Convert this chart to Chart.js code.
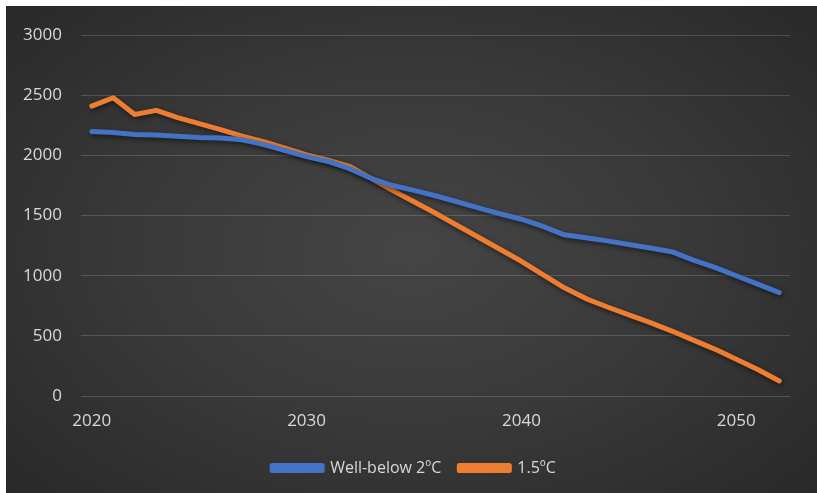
<!DOCTYPE html>
<html>
<head>
<meta charset="utf-8">
<script src="https://cdn.jsdelivr.net/npm/chart.js@4"></script>
<style>
  html, body { margin: 0; padding: 0; background: #ffffff; }
  #wrap {
    position: absolute; left: 6px; top: 6px; width: 811px; height: 487px;
    background: radial-gradient(ellipse 75% 80% at 50% 50%, #454545 0%, #393939 45%, #262626 100%);
  }
  canvas { display: block; }
</style>
</head>
<body>
<div id="wrap"><canvas id="c" width="811" height="487"></canvas></div>
<script>
// Emission pathways, yearly values
const years = [2020, 2021, 2022, 2023, 2024, 2025, 2026, 2027, 2028, 2029, 2030,
               2031, 2032, 2033, 2034, 2035, 2036, 2037, 2038, 2039, 2040,
               2041, 2042, 2043, 2044, 2045, 2046, 2047, 2048, 2049, 2050,
               2051, 2052];
const wellBelow2 = [2200, 2190, 2175, 2170, 2160, 2150, 2145, 2130, 2090, 2040, 1990,
                    1950, 1890, 1810, 1750, 1710, 1665, 1615, 1565, 1515, 1470,
                    1410, 1340, 1315, 1290, 1260, 1230, 1200, 1130, 1070, 1000,
                    930, 860];
const onePointFive = [2410, 2480, 2340, 2375, 2315, 2265, 2215, 2160, 2115, 2060, 2005,
                      1960, 1910, 1810, 1710, 1615, 1520, 1420, 1320, 1220, 1120,
                      1010, 900, 810, 740, 675, 610, 540, 465, 390, 305,
                      220, 125];
const seriesNames = ['Well-below 2ºC', '1.5ºC'];
const yTicks = [0, 500, 1000, 1500, 2000, 2500, 3000];
const xTickYears = [2020, 2030, 2040, 2050];

const textColor = '#d9d9d9';
const gridColor = 'rgba(255,255,255,0.16)';
const family = "'Open Sans', 'Noto Sans', sans-serif";
const tickFont = { family: family, size: 17 };
const legendFont = { family: family, size: 16 };

// soft drop shadow under each line
const lineShadow = {
  id: 'lineShadow',
  beforeDatasetDraw(chart) {
    const ctx = chart.ctx;
    ctx.save();
    ctx.shadowColor = 'rgba(0,0,0,0.55)';
    ctx.shadowBlur = 5;
    ctx.shadowOffsetX = 1;
    ctx.shadowOffsetY = 2;
  },
  afterDatasetDraw(chart) {
    chart.ctx.restore();
  }
};

// centre the legend under the plot rather than under the whole canvas
const legendShift = {
  id: 'legendShift',
  afterLayout(chart) {
    const lg = chart.legend;
    if (lg) { lg.left += 13; lg.right += 13; }
  }
};

new Chart(document.getElementById('c'), {
  type: 'line',
  data: {
    labels: years,
    datasets: [
      {
        label: seriesNames[0],
        data: wellBelow2,
        borderColor: '#4472C4',
        backgroundColor: '#4472C4',
        borderWidth: 5,
        pointRadius: 0,
        tension: 0,
        borderCapStyle: 'round',
        borderJoinStyle: 'round'
      },
      {
        label: seriesNames[1],
        data: onePointFive,
        borderColor: '#ED7D31',
        backgroundColor: '#ED7D31',
        borderWidth: 5,
        pointRadius: 0,
        tension: 0,
        borderCapStyle: 'round',
        borderJoinStyle: 'round'
      }
    ]
  },
  options: {
    responsive: false,
    animation: false,
    layout: { padding: { left: 6, right: 27, top: 21, bottom: 7 } },
    plugins: {
      tooltip: { enabled: false },
      legend: {
        position: 'bottom',
        labels: {
          color: textColor,
          font: legendFont,
          boxWidth: 50,
          boxHeight: 5,
          padding: 18
        }
      }
    },
    scales: {
      x: {
        type: 'category',
        offset: true,
        grid: { display: false, drawTicks: false },
        border: { display: false },
        ticks: {
          color: textColor,
          font: tickFont,
          autoSkip: false,
          maxRotation: 0,
          padding: 15,
          callback(value, index) {
            const yr = years[index];
            return xTickYears.includes(yr) ? String(yr) : '';
          }
        },
        afterFit(scale) { scale.height = 46; }
      },
      y: {
        min: yTicks[0],
        max: yTicks[yTicks.length - 1],
        grid: { color: gridColor, lineWidth: 1, drawTicks: false },
        border: { display: false },
        ticks: {
          color: textColor,
          font: tickFont,
          stepSize: yTicks[1] - yTicks[0],
          padding: 19,
          callback(value) { return String(value); }
        },
        afterFit(scale) { scale.width = 69; }
      }
    }
  },
  plugins: [lineShadow, legendShift]
});
</script>
</body>
</html>
